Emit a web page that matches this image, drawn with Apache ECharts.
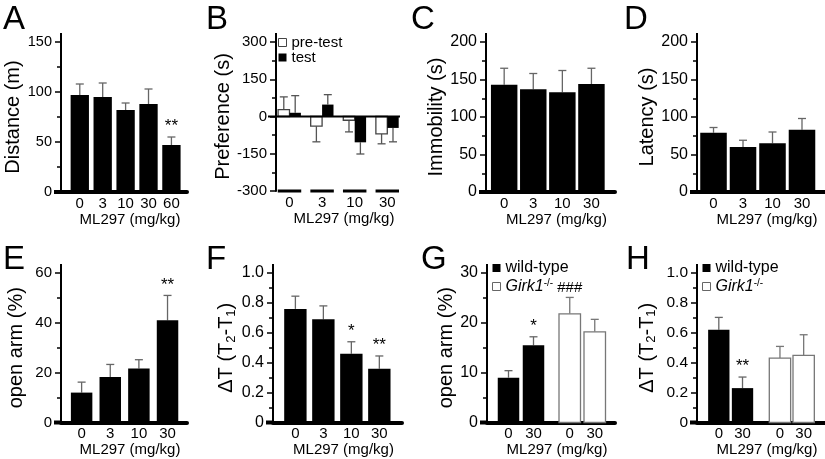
<!DOCTYPE html>
<html><head><meta charset="utf-8">
<script src="https://cdn.jsdelivr.net/npm/echarts@6/dist/echarts.min.js"></script>
<style>html,body{margin:0;padding:0;background:#fff}#c{width:825px;height:459px}</style>
</head><body><div id="c"></div>
<script>
// ---------------- DATA ----------------
var doseA = ['0', '3', '10', '30', '60'];
var distMean = [97, 95, 82, 88, 47];
var distSem = [11, 14, 7, 15, 8];
var distSig = ['', '', '', '', '**'];

var doseB = ['0', '3', '10', '30'];
var prefPreMean = [28, -39, -15, -70];
var prefPreSem = [51, 63, 47, 40];
var prefTestMean = [15, 48, -104, -46];
var prefTestSem = [69, 40, 47, 56];

var doseC = ['0', '3', '10', '30'];
var immobMean = [143, 137, 133, 144];
var immobSem = [22, 21, 29, 21];

var doseD = ['0', '3', '10', '30'];
var latMean = [79, 60, 65, 83];
var latSem = [7, 9, 15, 15];

var doseE = ['0', '3', '10', '30'];
var openArmMean = [12, 18.3, 21.7, 41];
var openArmSem = [4.2, 5, 3.5, 10];
var openArmSig = ['', '', '', '**'];

var doseF = ['0', '3', '10', '30'];
var dtMean = [0.76, 0.69, 0.46, 0.36];
var dtSem = [0.085, 0.09, 0.08, 0.085];
var dtSig = ['', '', '*', '**'];

var doseG = ['0', '30'];
var gWtMean = [9.0, 15.5];
var gWtSem = [1.4, 1.7];
var gWtSig = ['', '*'];
var gKoMean = [21.8, 18.2];
var gKoSem = [3.3, 2.5];
var gKoSig = ['###', ''];

var doseH = ['0', '30'];
var hWtMean = [0.62, 0.23];
var hWtSem = [0.083, 0.074];
var hWtSig = ['', '**'];
var hKoMean = [0.431, 0.449];
var hKoSem = [0.078, 0.138];
var hKoSig = ['', ''];

var xTitle = 'ML297 (mg/kg)';
var legendB = ['pre-test', 'test'];
var legendGH = ['wild-type', 'Girk1-/-'];
// --------------------------------------

var FONT = '"Liberation Sans", Arial, sans-serif';
var chart = echarts.init(document.getElementById('c'));
var option = {animation: false, backgroundColor: '#fff', grid: [], xAxis: [], yAxis: [], series: [], legend: [], graphic: []};

function idx(n) { var a = []; for (var i = 0; i < n; i++) a.push(i); return a; }

function barItem(halfW, fill, stroke, lw) {
  return function (params, api) {
    var x = api.value(0), v = api.value(1);
    var a = api.coord([x - halfW, 0]), b = api.coord([x + halfW, v]);
    return {type: 'rect', shape: {x: a[0], y: Math.min(a[1], b[1]), width: b[0] - a[0], height: Math.abs(b[1] - a[1])},
      style: {fill: fill, stroke: stroke || null, lineWidth: lw || 0}};
  };
}
function errItem(color) {
  return function (params, api) {
    var x = api.value(0), v = api.value(1), e = api.value(2);
    var end = v >= 0 ? v + e : v - e;
    var p0 = api.coord([x, v]), p1 = api.coord([x, end]);
    return {type: 'group', children: [
      {type: 'line', shape: {x1: p0[0], y1: p0[1], x2: p1[0], y2: p1[1]}, style: {stroke: color, lineWidth: 1.3}},
      {type: 'line', shape: {x1: p1[0] - 4, y1: p1[1], x2: p1[0] + 4, y2: p1[1]}, style: {stroke: color, lineWidth: 1.3}}
    ]};
  };
}
function sigItem(labels, fontSize) {
  return function (params, api) {
    var t = labels[params.dataIndex];
    if (!t) return {type: 'group', children: []};
    var p = api.coord([api.value(0), api.value(1)]);
    return {type: 'text', x: p[0], y: p[1] - 2,
      style: {text: t, fill: '#000', font: fontSize + 'px ' + FONT, align: 'center', verticalAlign: 'bottom',
        textAlign: 'center', textVerticalAlign: 'bottom'}};
  };
}

function addPanel(p) {
  var gi = option.grid.length;
  option.grid.push({left: p.left, top: p.top, width: p.width, height: p.height});
  option.xAxis.push({
    gridIndex: gi, type: 'value', min: p.xmin, max: p.xmax,
    splitLine: {show: false}, axisTick: {show: false},
    axisLine: {show: !p.segBase, onZero: false, lineStyle: {color: '#000', width: 4}},
    axisLabel: {customValues: p.xpos, color: '#000', fontSize: 15, fontFamily: FONT, margin: 4,
      formatter: function (v) {
        for (var i = 0; i < p.xpos.length; i++) if (Math.abs(p.xpos[i] - v) < 1e-6) return p.xlabels[i];
        return '';
      }},
    name: xTitle, nameLocation: 'middle', nameGap: 19,
    nameTextStyle: {color: '#000', fontSize: 15, fontFamily: FONT, verticalAlign: 'top', padding: [0, 0, 0, 12]}
  });
  option.yAxis.push({
    gridIndex: gi, type: 'value', min: p.ymin, max: p.ymax, interval: p.yint,
    splitLine: {show: false},
    axisLine: {show: true, onZero: false, lineStyle: {color: '#000', width: 2}},
    axisTick: {show: true, length: 6, lineStyle: {color: '#000', width: 1.5}},
    minorTick: {show: true, splitNumber: 2, length: 4, lineStyle: {color: '#000', width: 1.5}},
    axisLabel: {color: '#000', fontSize: p.tickSize, fontFamily: FONT, margin: 9, formatter: p.yfmt},
    name: p.yname, nameLocation: 'middle', nameGap: p.nameGap,
    nameTextStyle: {color: '#000', fontSize: 20, fontFamily: FONT,
      rich: {sub: {fontSize: 13, fontFamily: FONT, color: '#000', padding: [9, 0, 0, 0]}}}
  });
  p.sets.forEach(function (s) {
    option.series.push({type: 'custom', name: s.name, xAxisIndex: gi, yAxisIndex: gi, clip: false, silent: true, z: 3,
      itemStyle: {color: s.fill},
      data: s.pos.map(function (x, i) { return [x, s.mean[i]]; }),
      renderItem: barItem(p.halfW, s.fill, s.stroke, s.stroke ? 1.3 : 0)});
    option.series.push({type: 'custom', xAxisIndex: gi, yAxisIndex: gi, clip: false, silent: true, z: 2,
      data: s.pos.map(function (x, i) { return [x, s.mean[i], s.sem[i]]; }),
      renderItem: errItem(s.err)});
    if (s.sig) {
      option.series.push({type: 'custom', xAxisIndex: gi, yAxisIndex: gi, clip: false, silent: true, z: 4,
        data: s.pos.map(function (x, i) { return [x, s.mean[i] + s.sem[i]]; }),
        renderItem: sigItem(s.sig, s.sigSize || 17)});
    }
  });
  option.series.push({type: 'custom', xAxisIndex: gi, yAxisIndex: gi, clip: false, silent: true, z: 5,
    data: [[p.xmin, 0]],
    renderItem: function (params, api) {
      var top = api.coord([p.xmin, p.ymax]);
      var kids = [{type: 'line', shape: {x1: top[0], y1: top[1], x2: top[0], y2: top[1] - 9}, style: {stroke: '#000', lineWidth: 2}}];
      var z0 = api.coord([p.xmin, 0]);
      if (p.segBase) {
        var z1 = api.coord([p.xmax, 0]);
        kids.push({type: 'line', shape: {x1: z0[0] - 8, y1: z0[1], x2: z1[0], y2: z1[1]}, style: {stroke: '#000', lineWidth: 2}});
        p.groupPos.forEach(function (g) {
          var a = api.coord([g - 0.36, p.ymin]), b = api.coord([g + 0.36, p.ymin]);
          kids.push({type: 'line', shape: {x1: a[0], y1: a[1], x2: b[0], y2: b[1]}, style: {stroke: '#000', lineWidth: 3}});
        });
      } else {
        kids.push({type: 'line', shape: {x1: z0[0] - 7, y1: z0[1], x2: z0[0], y2: z0[1]}, style: {stroke: '#000', lineWidth: 4}});
      }
      return {type: 'group', children: kids};
    }});
}

var fmt1 = function (v) { return v === 0 ? '0' : v.toFixed(1); };
var dtName = 'ΔT (T{sub|2}-T{sub|1})';

// A
addPanel({left: 61, top: 42, width: 126, height: 150, ymin: 0, ymax: 150, yint: 50, xmin: -0.82, xmax: 4.68, tickSize: 14.5,
  halfW: 0.4, xpos: idx(5), xlabels: doseA, yname: 'Distance (m)', nameGap: 36,
  sets: [{name: 'A', pos: idx(5), mean: distMean, sem: distSem, fill: '#000', err: '#666', sig: distSig}]});
// B
var bPos = idx(4);
addPanel({left: 276, top: 42, width: 124, height: 149, ymin: -300, ymax: 300, yint: 150, xmin: -0.414, xmax: 3.39, tickSize: 15,
  halfW: 0.175, xpos: bPos, xlabels: doseB, yname: 'Preference (s)', nameGap: 41, segBase: true, groupPos: bPos,
  sets: [
    {name: legendB[0], pos: bPos.map(function (x) { return x - 0.175; }), mean: prefPreMean, sem: prefPreSem, fill: '#fff', stroke: '#444', err: '#555'},
    {name: legendB[1], pos: bPos.map(function (x) { return x + 0.175; }), mean: prefTestMean, sem: prefTestSem, fill: '#000', err: '#555'}
  ]});
// C
addPanel({left: 486, top: 42, width: 129, height: 150, ymin: 0, ymax: 200, yint: 50, xmin: -0.625, xmax: 3.81, tickSize: 16,
  halfW: 0.455, xpos: idx(4), xlabels: doseC, yname: 'Immobility (s)', nameGap: 31,
  sets: [{name: 'C', pos: idx(4), mean: immobMean, sem: immobSem, fill: '#000', err: '#666'}]});
// D
addPanel({left: 697, top: 42, width: 128, height: 150, ymin: 0, ymax: 200, yint: 50, xmin: -0.56, xmax: 3.78, tickSize: 16,
  halfW: 0.45, xpos: idx(4), xlabels: doseD, yname: 'Latency (s)', nameGap: 36,
  sets: [{name: 'D', pos: idx(4), mean: latMean, sem: latSem, fill: '#000', err: '#666'}]});
// E
addPanel({left: 61, top: 273, width: 126, height: 149.5, ymin: 0, ymax: 60, yint: 20, xmin: -0.72, xmax: 3.68, tickSize: 15,
  halfW: 0.375, xpos: idx(4), xlabels: doseE, yname: 'open arm (%)', nameGap: 35,
  sets: [{name: 'E', pos: idx(4), mean: openArmMean, sem: openArmSem, fill: '#000', err: '#666', sig: openArmSig}]});
// F
addPanel({left: 273, top: 273, width: 129, height: 149.5, ymin: 0, ymax: 1, yint: 0.2, xmin: -0.8, xmax: 3.81, tickSize: 16,
  halfW: 0.4, xpos: idx(4), xlabels: doseF, yname: dtName, nameGap: 35, yfmt: fmt1,
  sets: [{name: 'F', pos: idx(4), mean: dtMean, sem: dtSem, fill: '#000', err: '#666', sig: dtSig}]});
// G
var gOff = 2.45;
var gWtPos = idx(2), gKoPos = idx(2).map(function (x) { return x + gOff; });
addPanel({left: 487, top: 273, width: 128, height: 149.5, ymin: 0, ymax: 30, yint: 10, xmin: -0.86, xmax: 4.26, tickSize: 16,
  halfW: 0.43, xpos: gWtPos.concat(gKoPos), xlabels: doseG.concat(doseG), yname: 'open arm (%)', nameGap: 31,
  sets: [
    {name: legendGH[0], pos: gWtPos, mean: gWtMean, sem: gWtSem, fill: '#000', err: '#666', sig: gWtSig},
    {name: legendGH[1], pos: gKoPos, mean: gKoMean, sem: gKoSem, fill: '#fff', stroke: '#777', err: '#777', sig: gKoSig, sigSize: 15}
  ]});
// H
var hOff = 2.58;
var hWtPos = idx(2), hKoPos = idx(2).map(function (x) { return x + hOff; });
addPanel({left: 697, top: 273, width: 128, height: 149.5, ymin: 0, ymax: 1, yint: 0.2, xmin: -0.92, xmax: 4.48, tickSize: 15.5,
  halfW: 0.45, xpos: hWtPos.concat(hKoPos), xlabels: doseH.concat(doseH), yname: dtName, nameGap: 39, yfmt: fmt1,
  sets: [
    {name: legendGH[0], pos: hWtPos, mean: hWtMean, sem: hWtSem, fill: '#000', err: '#666', sig: hWtSig},
    {name: legendGH[1], pos: hKoPos, mean: hKoMean, sem: hKoSem, fill: '#fff', stroke: '#777', err: '#777', sig: hKoSig}
  ]});

function legendDef(left, top, names, fontSize, lh, gap, border) {
  return {left: left, top: top, orient: 'vertical', icon: 'rect', itemWidth: 8, itemHeight: 8, itemGap: gap,
    selectedMode: false, padding: 0,
    textStyle: {color: '#000', fontSize: fontSize, fontFamily: FONT, lineHeight: lh,
      rich: {it: {fontStyle: 'italic', fontSize: fontSize, fontFamily: FONT, color: '#000'},
             sup: {fontSize: 10, fontFamily: FONT, color: '#000', padding: [0, 0, 7, 0]}}},
    formatter: function (n) { return n === 'Girk1-/-' ? '{it|Girk1}{sup|-/-}' : n; },
    data: [{name: names[0], itemStyle: names === legendB ? {color: '#fff', borderColor: border, borderWidth: 1} : {color: '#000'}},
           {name: names[1], itemStyle: names === legendB ? {color: '#000'} : {color: '#fff', borderColor: border, borderWidth: 1}}]};
}
option.legend.push(legendDef(278, 35, legendB, 15, 14, 0, '#444'));
option.legend.push(legendDef(492, 260, legendGH, 16, 16, 2, '#666'));
option.legend.push(legendDef(702, 260, legendGH, 16, 16, 2, '#666'));

var letters = [['A', 3, 3], ['B', 206, 3], ['C', 411, 3], ['D', 624, 3], ['E', 3, 243], ['F', 206, 243], ['G', 421, 243], ['H', 626, 243]];
letters.forEach(function (l) {
  option.graphic.push({type: 'text', left: l[1], top: l[2], style: {text: l[0], font: '33px ' + FONT, fill: '#000'}});
});

chart.setOption(option);
</script></body></html>
